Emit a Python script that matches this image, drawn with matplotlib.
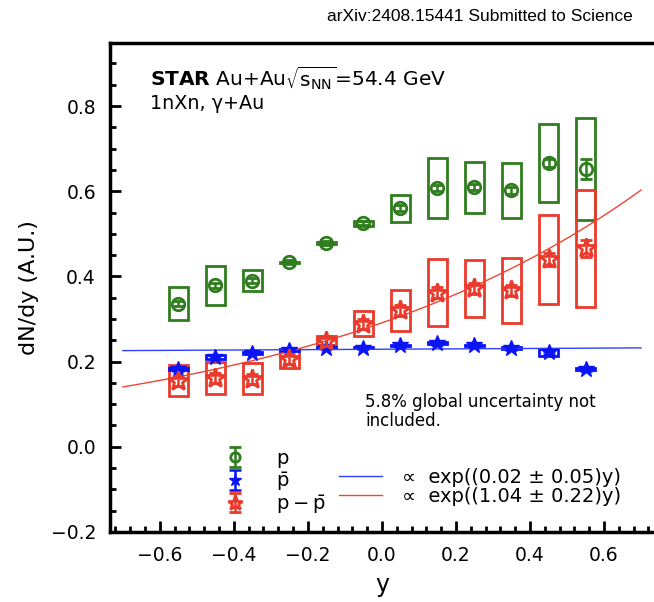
import numpy as np
import matplotlib
matplotlib.use("Agg")
import matplotlib.pyplot as plt
from matplotlib.patches import Rectangle
from matplotlib.lines import Line2D
from matplotlib.ticker import MultipleLocator

plt.rcParams['mathtext.fontset'] = 'dejavusans'
plt.rcParams['font.family'] = ['DejaVu Sans']

# rapidity bins
y_bins = [-0.55, -0.45, -0.35, -0.25, -0.15, -0.05, 0.05, 0.15, 0.25, 0.35, 0.45, 0.55]

# proton
p_val = [0.336, 0.379, 0.390, 0.433, 0.478, 0.525, 0.560, 0.607, 0.609, 0.602, 0.666, 0.652]
p_stat = [0.006, 0.006, 0.006, 0.005, 0.005, 0.005, 0.007, 0.007, 0.007, 0.008, 0.010, 0.024]
p_sys = [0.038, 0.045, 0.025, 0.002, 0.002, 0.006, 0.032, 0.071, 0.060, 0.065, 0.092, 0.119]

# antiproton
pbar_val = [0.183, 0.210, 0.221, 0.228, 0.233, 0.233, 0.238, 0.243, 0.238, 0.232, 0.222, 0.183]
pbar_stat = [0.005, 0.005, 0.004, 0.004, 0.004, 0.004, 0.004, 0.004, 0.004, 0.004, 0.004, 0.005]
pbar_sys = [0.002, 0.005, 0.002, 0.002, 0.002, 0.002, 0.002, 0.002, 0.002, 0.002, 0.008, 0.002]

# net proton
diff_val = [0.155, 0.162, 0.160, 0.207, 0.249, 0.289, 0.320, 0.362, 0.372, 0.367, 0.440, 0.466]
diff_stat = [0.012, 0.012, 0.012, 0.012, 0.012, 0.012, 0.013, 0.013, 0.013, 0.014, 0.016, 0.020]
diff_sys = [0.036, 0.038, 0.036, 0.023, 0.010, 0.029, 0.047, 0.078, 0.067, 0.077, 0.105, 0.138]

# exponential fits: A * exp(b * y)
fit_range = (-0.7, 0.7)
pbar_fit = (0.229, 0.02)
diff_fit = (0.291, 1.04)

green = '#2f7d1e'
blue = '#0a14f5'
red = '#ea3a2b'

fig = plt.figure(figsize=(6.54, 6.02), dpi=100)
ax = fig.add_axes([0.168, 0.1163, 0.832, 0.8123])

box_w = 0.05


def draw_boxes(vals, sys, color):
    for x, v, s in zip(y_bins, vals, sys):
        ax.add_patch(Rectangle((x - box_w / 2, v - s), box_w, 2 * s, fill=False,
                               edgecolor=color, lw=2.0, zorder=2))


draw_boxes(p_val, p_sys, green)
draw_boxes(diff_val, diff_sys, red)
draw_boxes(pbar_val, pbar_sys, blue)

yy = np.linspace(fit_range[0], fit_range[1], 200)
l_blue, = ax.plot(yy, pbar_fit[0] * np.exp(pbar_fit[1] * yy), color='#3040ff', lw=1.0, zorder=3)
l_red, = ax.plot(yy, diff_fit[0] * np.exp(diff_fit[1] * yy), color='#f04535', lw=1.0, zorder=3)

e_p = ax.errorbar(y_bins, p_val, yerr=p_stat, fmt='o', ms=9, mfc='none', mec=green, mew=2.0,
                  color=green, elinewidth=1.8, capsize=4.5, capthick=1.8, zorder=4)
e_pbar = ax.errorbar(y_bins, pbar_val, yerr=pbar_stat, fmt='*', ms=12, mfc=blue, mec=blue,
                     color=blue, elinewidth=1.8, capsize=4.5, capthick=1.8, zorder=4)
e_diff = ax.errorbar(y_bins, diff_val, yerr=diff_stat, fmt='*', ms=15, mfc='none', mec=red, mew=2.0,
                     color=red, elinewidth=1.8, capsize=4.5, capthick=1.8, zorder=5)

ax.set_xlim(-0.735, 0.735)
ax.set_ylim(-0.2, 0.948)
ax.xaxis.set_major_locator(MultipleLocator(0.2))
ax.xaxis.set_minor_locator(MultipleLocator(0.04))
ax.yaxis.set_major_locator(MultipleLocator(0.2))
ax.yaxis.set_minor_locator(MultipleLocator(0.05))
ax.tick_params(which='both', direction='in', width=2, labelsize=13.5)
ax.tick_params(which='major', length=8, pad=10)
ax.tick_params(which='minor', length=4)
for s in ['left', 'bottom', 'top']:
    ax.spines[s].set_linewidth(2.5)
ax.spines['right'].set_visible(False)

ax.set_xlabel('y', fontsize=17, labelpad=6)
ax.set_ylabel('dN/dy (A.U.)', fontsize=16, labelpad=8)

ax.text(0.073, 0.928, r'$\mathbf{STAR}$ Au+Au$\sqrt{\mathrm{s}_{\mathrm{NN}}}$=54.4 GeV',
        transform=ax.transAxes, fontsize=14.5, va='center')
ax.text(0.073, 0.877, '1nXn, γ+Au', transform=ax.transAxes, fontsize=13.8, va='center')
ax.text(0.469, 0.246, '5.8% global uncertainty not\nincluded.', transform=ax.transAxes,
        fontsize=12, va='center', linespacing=1.1)

empty = Line2D([], [], linestyle='none', marker='none')
ax.legend([e_p, e_pbar, e_diff, empty, l_blue, l_red],
          [r'$\mathrm{p}$', r'$\bar{\mathrm{p}}$', r'$\mathrm{p}-\bar{\mathrm{p}}$', '',
           '∝  exp((0.02 ± 0.05)y)', '∝  exp((1.04 ± 0.22)y)'],
          ncol=2, loc='center', bbox_to_anchor=(0.565, 0.102), frameon=False, fontsize=14,
          markerscale=0.75, handlelength=2.2, handletextpad=1.0, columnspacing=0.7,
          labelspacing=0.0)

fig.text(0.968, 0.972, 'arXiv:2408.15441 Submitted to Science', ha='right', va='center',
         fontsize=12.5, family=['Liberation Sans', 'DejaVu Sans'])

fig.savefig('out.png', dpi=100)
